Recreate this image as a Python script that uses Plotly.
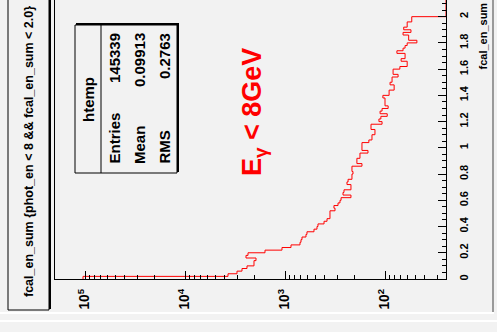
import plotly.graph_objects as go

# ---------------- data ----------------
nbins = 100
fcal_min, fcal_max = 0.0, 2.0
counts = [104700, 3715, 3020, 2692, 2399, 2042, 2042, 1950, 2455, 2344,
          1585, 1072, 871, 708, 692, 676, 617, 603, 513, 479,
          468, 407, 380, 355, 355, 355, 316, 324, 295, 282,
          275, 219, 263, 257, 219, 219, 240, 234, 214, 214,
          209, 214, 214, 170, 191, 191, 178, 178, 148, 170,
          170, 170, 145, 135, 135, 126, 126, 138, 138, 107,
          115, 110, 95, 112, 107, 93, 100, 100, 100, 105,
          91, 91, 81, 81, 89, 85, 85, 74, 83, 83,
          71, 60, 60, 69, 63, 63, 76, 66, 63, 60,
          48, 58, 58, 66, 55, 65, 60, 60, 54, 54]
stats_labels = ["Entries", "Mean", "RMS"]
stats_values = ["145339", "0.09913", "0.2763"]
hist_name = "htemp"
title_text = "fcal_en_sum {phot_en &lt; 8 &amp;&amp; fcal_en_sum &lt; 2.0}"
axis_title = "fcal_en_sum"
label_text = "E<sub>γ</sub> &lt; 8GeV"

# ---------------- layout geometry ----------------
W, H = 497, 332
L, R, T, B = 55, 446, 0, 279
xlog_range = [5.30, 1.39]   # reversed log axis (counts)
y_range = [0.0, 2.127]
BG = "#f2f2f2"
FONT = "Liberation Sans, Arial, sans-serif"


def px(xp):
    return (xp - L) / (R - L)


def py(yp):
    return (B - yp) / (B - T)


width_bin = (fcal_max - fcal_min) / nbins
edges = [fcal_min + i * width_bin for i in range(nbins + 1)]
floor_val = 10 ** xlog_range[1]

xs, ys = [], []
for k, c in enumerate(counts):
    xs += [c, c]
    ys += [edges[k], edges[k + 1]]
xs += [floor_val, floor_val]
ys += [edges[-1], y_range[1]]

fig = go.Figure()
fig.add_trace(go.Scatter(x=xs, y=ys, mode="lines",
                         line=dict(color="#ff0000", width=1),
                         hoverinfo="skip", showlegend=False))

tickfont = dict(family=FONT, size=11, color="black", weight="bold")

fig.update_layout(
    width=W, height=H,
    margin=dict(l=L, r=W - R, t=T, b=H - B, pad=0),
    paper_bgcolor=BG, plot_bgcolor=BG,
    showlegend=False,
    xaxis=dict(type="log", range=xlog_range, showgrid=False, zeroline=False,
               showline=True, linecolor="black", linewidth=1, mirror=True,
               ticks="inside", ticklen=8, tickwidth=1, tickcolor="black",
               dtick=1, exponentformat="power", tickangle=-90,
               tickfont=tickfont, ticklabelstandoff=4,
               minor=dict(ticks="inside", ticklen=4, tickwidth=1,
                          tickcolor="black", dtick="D1", showgrid=False)),
    yaxis=dict(range=y_range, side="right", showgrid=False, zeroline=False,
               showline=True, linecolor="black", linewidth=1, mirror=True,
               ticks="inside", ticklen=8, tickwidth=1, tickcolor="black",
               tick0=0, dtick=0.2, tickangle=-90, tickfont=tickfont,
               ticklabelstandoff=8,
               minor=dict(ticks="inside", ticklen=4, tickwidth=1,
                          tickcolor="black", dtick=0.05, showgrid=False)),
)

shapes = []
# title box
shapes.append(dict(type="rect", xref="paper", yref="paper",
                   x0=px(8), x1=px(49), y0=py(310), y1=py(-5),
                   line=dict(color="black", width=1), fillcolor=BG))
shapes.append(dict(type="line", xref="paper", yref="paper",
                   x0=px(50), x1=px(50), y0=py(309), y1=py(-5),
                   line=dict(color="black", width=2)))
# stats box
shapes.append(dict(type="rect", xref="paper", yref="paper",
                   x0=px(75), x1=px(177), y0=py(173), y1=py(25),
                   line=dict(color="black", width=1), fillcolor=BG))
shapes.append(dict(type="line", xref="paper", yref="paper",
                   x0=px(178), x1=px(178), y0=py(172), y1=py(24),
                   line=dict(color="black", width=2)))
shapes.append(dict(type="line", xref="paper", yref="paper",
                   x0=px(76), x1=px(179), y0=py(24), y1=py(24),
                   line=dict(color="black", width=2)))
shapes.append(dict(type="line", xref="paper", yref="paper",
                   x0=px(101), x1=px(101), y0=py(173), y1=py(25),
                   line=dict(color="black", width=1)))
# canvas bevel borders
shapes.append(dict(type="line", xref="paper", yref="paper",
                   x0=px(493), x1=px(493), y0=py(312), y1=py(0),
                   line=dict(color="#9a9a9a", width=2)))
shapes.append(dict(type="line", xref="paper", yref="paper",
                   x0=px(0), x1=px(494), y0=py(313), y1=py(313),
                   line=dict(color="white", width=2)))
shapes.append(dict(type="line", xref="paper", yref="paper",
                   x0=px(0), x1=px(497), y0=py(321), y1=py(321),
                   line=dict(color="white", width=2)))
fig.update_layout(shapes=shapes)

ann = []
def add_text(text, xp, yp, size, xanchor="center", yanchor="middle", color="black"):
    ann.append(dict(text="<b>" + text + "</b>", xref="paper", yref="paper",
                    x=px(xp), y=py(yp),
                    xanchor=xanchor, yanchor=yanchor, textangle=-90,
                    showarrow=False,
                    font=dict(family=FONT, size=size, color=color)))

add_text(title_text, 29, 152, 12.5)
add_text(axis_title, 482, 1, 11, yanchor="top")
add_text(hist_name, 88, 100, 15)
row_x = [114, 139, 164]
for lab, val, xr in zip(stats_labels, stats_values, row_x):
    add_text(lab, xr, 166, 15, yanchor="bottom")
    add_text(val, xr, 31, 15, yanchor="top")
add_text(label_text, 254, 112, 27, color="#ff0000")
fig.update_layout(annotations=ann)

fig.write_html("out.html", config={"displayModeBar": False},
               post_script="document.body.style.margin='0px';document.body.style.overflow='hidden';")
